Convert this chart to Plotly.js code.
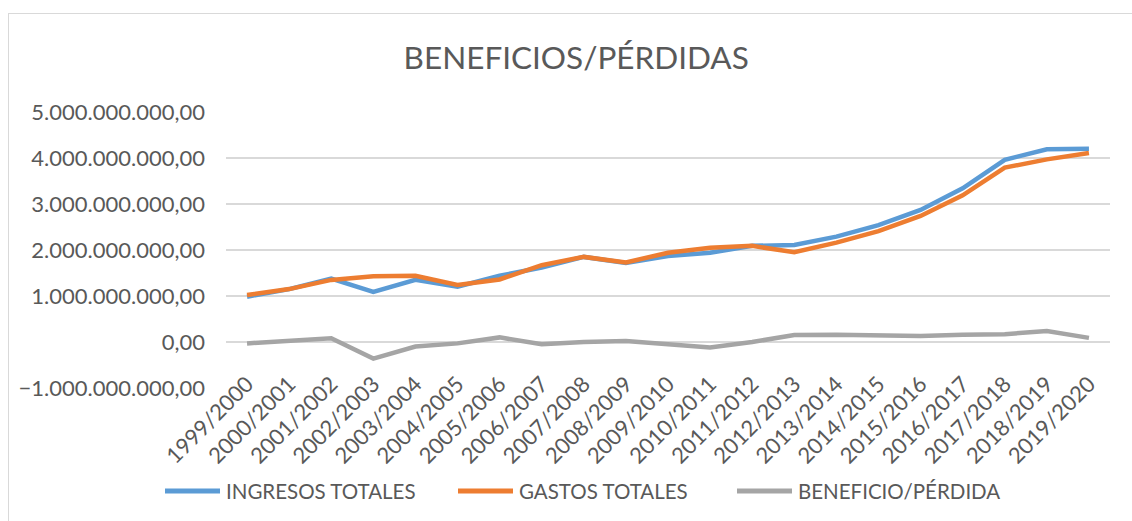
<!DOCTYPE html>
<html>
<head>
<meta charset="utf-8">
<script src="https://cdn.plot.ly/plotly-3.0.1.min.js"></script>
<style>
  html, body { margin: 0; padding: 0; background: #fff; }
  #frame { position: absolute; left: 8px; top: 13px; width: 1140px; height: 520px; border: 1px solid #d9d9d9; box-sizing: border-box; }
  #chart { position: absolute; left: 0; top: 0; width: 1132px; height: 521px; }
</style>
</head>
<body>
<div id="frame"></div>
<div id="chart"></div>
<script>
const categories = ["1999/2000","2000/2001","2001/2002","2002/2003","2003/2004","2004/2005","2005/2006","2006/2007","2007/2008","2008/2009","2009/2010","2010/2011","2011/2012","2012/2013","2013/2014","2014/2015","2015/2016","2016/2017","2017/2018","2018/2019","2019/2020"];
const ingresos = [0.985e9,1.15e9,1.38e9,1.09e9,1.35e9,1.20e9,1.44e9,1.62e9,1.85e9,1.72e9,1.87e9,1.94e9,2.09e9,2.11e9,2.29e9,2.54e9,2.87e9,3.34e9,3.96e9,4.19e9,4.20e9];
const gastos = [1.02e9,1.15e9,1.35e9,1.43e9,1.44e9,1.24e9,1.36e9,1.67e9,1.85e9,1.73e9,1.94e9,2.05e9,2.09e9,1.95e9,2.16e9,2.41e9,2.74e9,3.19e9,3.79e9,3.97e9,4.11e9];
const beneficio = [-0.03e9,0.02e9,0.08e9,-0.36e9,-0.10e9,-0.03e9,0.10e9,-0.05e9,0.0,0.02e9,-0.06e9,-0.12e9,0.0,0.15e9,0.16e9,0.14e9,0.13e9,0.16e9,0.17e9,0.24e9,0.09e9];
const seriesNames = ["INGRESOS TOTALES","GASTOS TOTALES","BENEFICIO/PÉRDIDA"];
const colors = ["#5B9BD5","#ED7D31","#A5A5A5"];

const FONT = "Lato, 'Open Sans', sans-serif";
const W = 1132, H = 521, M = { l: 226, r: 22, t: 112, b: 133 };
const pw = W - M.l - M.r, ph = H - M.t - M.b;
const px2x = p => (p - M.l) / pw;
const px2y = p => (H - M.b - p) / ph;

const traces = [ingresos, gastos, beneficio].map((vals, i) => ({
  type: "scatter", mode: "lines", x: categories, y: vals, name: seriesNames[i],
  line: { color: colors[i], width: 4.5 }, hoverinfo: "skip", showlegend: false
}));

// custom legend (long line symbols like the original)
const legendStarts = [165, 458, 737];
const legendY = 491;
const shapes = legendStarts.map((s, i) => ({
  type: "line", xref: "paper", yref: "paper",
  x0: px2x(s), x1: px2x(s + 55), y0: px2y(legendY), y1: px2y(legendY),
  line: { color: colors[i], width: 5 }
}));
const annotations = legendStarts.map((s, i) => ({
  xref: "paper", yref: "paper", x: px2x(s + 59), y: px2y(legendY),
  xanchor: "left", yanchor: "middle", showarrow: false, text: seriesNames[i],
  font: { size: 20.5, color: "#595959", family: FONT }
}));

const layout = {
  width: W, height: H, margin: M,
  paper_bgcolor: "rgba(0,0,0,0)", plot_bgcolor: "rgba(0,0,0,0)",
  separators: ",.",
  font: { family: FONT, color: "#595959", size: 22 },
  title: { text: "BENEFICIOS/PÉRDIDAS", x: 0.509, xanchor: "center", y: 0.889, yanchor: "middle", font: { size: 31.5, color: "#595959", family: FONT } },
  showlegend: false,
  shapes, annotations,
  xaxis: {
    type: "category", anchor: "free", position: 1/6, showgrid: false, zeroline: false, showline: false,
    tickangle: -45, ticks: "", tickfont: { size: 22, color: "#595959" }, range: [-0.5, 20.5], ticklabelstandoff: 24
  },
  yaxis: {
    range: [-1e9, 5e9], dtick: 1e9, tick0: 0, tickformat: ",.2f", showgrid: true, gridcolor: "#D9D9D9", gridwidth: 1.3,
    zeroline: false, showline: false, ticks: "", tickfont: { size: 22, color: "#595959" }, ticklabelstandoff: 20
  }
};
Plotly.newPlot("chart", traces, layout, { staticPlot: true, displayModeBar: false });
</script>
</body>
</html>
